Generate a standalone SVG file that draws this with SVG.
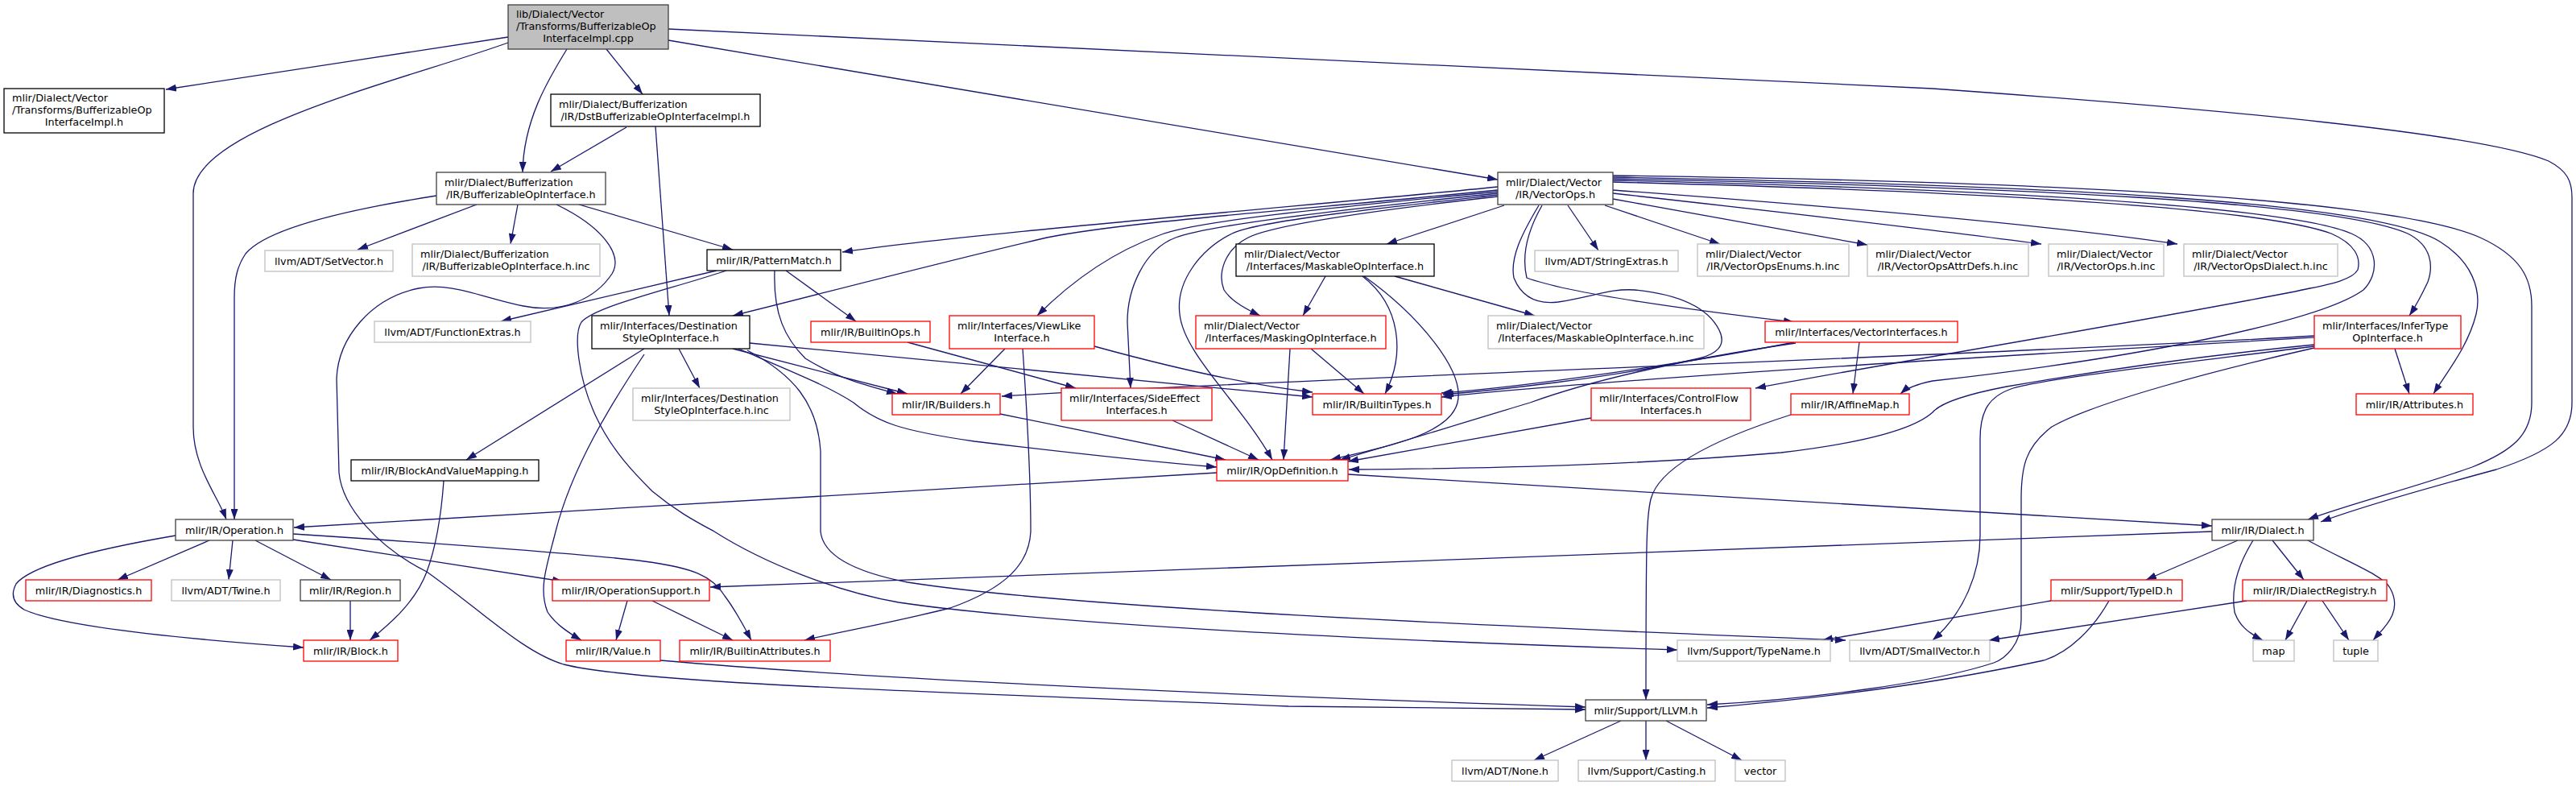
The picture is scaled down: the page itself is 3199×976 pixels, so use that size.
<svg xmlns="http://www.w3.org/2000/svg" width="3199" height="976" viewBox="0 0 3199 976">
<style>
text{font-family:"DejaVu Sans",sans-serif;font-size:12.8px;fill:#000}
.m{text-anchor:middle}
rect{fill:#fff;stroke-width:1.3}
.k rect{stroke:#000}
.d rect{stroke:#404040}
.g rect{stroke:#bfbfbf}
.r rect{stroke:#ff0000}
.root rect{fill:#bfbfbf;stroke:#404040}
#edges path{fill:none;stroke:#191970;stroke-width:1.3;marker-end:url(#a)}
</style>
<defs>
<marker id="a" markerUnits="userSpaceOnUse" viewBox="0 0 13 9" refX="13" refY="4.5" markerWidth="13" markerHeight="9" orient="auto"><path d="M0,0 L13,4.5 L0,9 z" fill="#191970"/></marker>
</defs>
<rect x="0" y="0" width="3199" height="976" style="fill:#fff;stroke:none"/>
<g id="edges">
<path d="M631,46 C500,66 330,92 206,111"/>
<path d="M631,53 C500,100 240,160 240,240 L240,530 C240,580 270,615 281,645"/>
<path d="M704,61 C680,100 650,150 649,214"/>
<path d="M753,61 L798,117"/>
<path d="M830,50 L1860,223"/>
<path d="M830,36 L2400,110 C2750,135 3080,165 3165,200 C3188,212 3194,225 3194,245 L3194,500 C3194,540 3170,560 3100,583 C3000,610 2930,630 2882,648"/>
<path d="M778,158 L684,213"/>
<path d="M814,157 L831,392"/>
<path d="M592,254 L444,310"/>
<path d="M643,254 L634,303"/>
<path d="M542,243 C420,262 330,285 305,315 C295,330 291,345 291,370 L291,645"/>
<path d="M719,254 L910,310"/>
<path d="M691,254 C745,280 775,315 760,340 C740,370 700,390 650,380 C600,370 560,350 520,358 C460,370 420,420 418,470 L421,587 C425,630 470,680 530,710 C600,760 650,810 700,825 C800,850 1200,860 1600,877 C1800,880 1900,881 1969,881"/>
<path d="M820,820 C1100,845 1600,866 1969,878"/>
<path d="M890,336 L622,399"/>
<path d="M902,336 C830,360 740,380 722,400 C712,415 718,470 740,517 C760,560 790,590 810,610 C840,635 865,648 887,660 C950,700 1040,735 1116,748 C1300,775 1700,795 2083,807"/>
<path d="M976,336 L1063,399"/>
<path d="M962,336 C960,390 975,420 1000,445 C1040,470 1080,480 1114,489"/>
<path d="M1860,232 C1600,258 1200,290 1046,313"/>
<path d="M1860,236 C1600,262 1400,275 1300,295 C1150,330 1000,370 910,392"/>
<path d="M1860,238 C1650,258 1480,275 1440,292 C1390,310 1340,340 1288,392"/>
<path d="M1860,240 C1650,262 1500,280 1460,295 C1420,310 1400,360 1400,400 L1404,482"/>
<path d="M1860,242 C1700,260 1560,275 1530,290 C1490,310 1460,350 1465,390 C1470,440 1540,500 1580,571"/>
<path d="M1860,244 C1700,262 1580,280 1550,295 C1520,310 1512,340 1520,360 C1530,375 1550,385 1565,392"/>
<path d="M1868,255 L1722,303"/>
<path d="M1911,255 C1890,290 1875,320 1880,345 C1890,370 1910,378 1935,375 C1980,368 2000,358 2030,360 C2080,365 2120,380 2135,410 C2145,430 2130,440 2110,445 C2000,470 1850,485 1792,490"/>
<path d="M1915,255 C1895,290 1890,320 1896,345 C1950,365 2100,385 2228,400"/>
<path d="M1947,255 L1985,311"/>
<path d="M1993,255 L2136,303"/>
<path d="M2003,247 L2319,304"/>
<path d="M2003,240 C2200,262 2400,285 2535,303"/>
<path d="M2003,236 C2300,258 2550,280 2704,303"/>
<path d="M2003,226 C2400,236 2800,255 2895,290 C2925,303 2932,320 2928,335 C2920,350 2880,355 2850,362 C2600,410 2350,450 2180,482"/>
<path d="M2003,224 C2450,234 2840,255 2920,290 C2955,305 2955,340 2935,360 C2880,400 2650,445 2400,473 C2385,476 2370,480 2360,489"/>
<path d="M2003,222 C2500,232 2900,250 2990,290 C3020,305 3022,330 3015,350 C3008,365 3000,380 2992,392"/>
<path d="M2003,220 C2550,230 2950,250 3030,300 C3070,325 3082,360 3075,390 C3065,430 3040,460 3022,489"/>
<path d="M2003,218 C2600,226 2980,250 3080,295 C3130,318 3144,345 3144,380 L3144,500 C3144,540 3120,560 3070,580 C3000,605 2920,625 2866,645"/>
<path d="M1646,343 L1618,392"/>
<path d="M1732,343 L1906,392"/>
<path d="M1692,343 C1740,380 1745,440 1720,489"/>
<path d="M1694,343 C1760,390 1820,460 1810,500 C1800,540 1720,555 1652,571"/>
<path d="M1628,433 L1694,489"/>
<path d="M1602,433 L1594,571"/>
<path d="M843,433 L869,482"/>
<path d="M800,433 L579,571"/>
<path d="M800,440 C760,500 710,580 690,660 C680,700 668,730 680,760 C690,775 705,785 722,795"/>
<path d="M910,433 L1127,489"/>
<path d="M917,433 C980,460 1030,480 1060,500 C1090,525 1120,535 1210,548 C1350,565 1450,575 1511,580"/>
<path d="M931,426 L1630,493"/>
<path d="M928,435 C985,465 1015,500 1019,560 L1019,660 C1022,690 1060,710 1127,723 C1300,750 1700,772 2292,795"/>
<path d="M1248,433 L1193,489"/>
<path d="M1270,433 C1276,520 1280,600 1280,660 C1278,700 1250,730 1180,755 C1100,775 1040,785 999,795"/>
<path d="M1359,430 C1450,455 1550,478 1630,487"/>
<path d="M1127,425 L1336,482"/>
<path d="M1242,514 L1522,571"/>
<path d="M1456,522 L1563,571"/>
<path d="M2309,425 L2301,489"/>
<path d="M2228,425 C2100,450 1900,480 1790,488"/>
<path d="M2230,426 C2100,445 1983,470 1900,500 C1800,530 1720,555 1664,571"/>
<path d="M1976,519 L1674,573"/>
<path d="M2874,417 C2500,440 1600,470 1244,492"/>
<path d="M2874,419 C2600,435 2000,470 1790,493"/>
<path d="M2874,428 C2700,445 2550,470 2492,480 C2440,490 2410,500 2400,512 C2380,530 2330,548 2212,562 C2000,580 1800,582 1675,583"/>
<path d="M2874,430 C2700,452 2540,470 2500,482 C2470,492 2459,510 2459,545 L2459,665 C2459,710 2440,760 2400,795"/>
<path d="M2874,432 C2750,460 2600,500 2548,530 C2515,555 2510,580 2510,620 L2510,770 C2510,800 2490,818 2476,823 C2400,848 2250,868 2120,875"/>
<path d="M2974,433 L2992,489"/>
<path d="M1511,587 L365,655"/>
<path d="M1674,589 L2747,653"/>
<path d="M260,671 L146,720"/>
<path d="M289,671 L284,720"/>
<path d="M317,671 L411,720"/>
<path d="M218,665 C130,680 40,700 20,725 C12,740 18,750 30,757 C80,780 250,795 377,804"/>
<path d="M364,670 L699,722"/>
<path d="M364,663 C550,675 750,690 800,697 C860,705 885,715 900,740 C915,760 925,780 933,795"/>
<path d="M435,746 L435,795"/>
<path d="M551,597 C548,640 541,680 530,710 C515,750 480,778 459,795"/>
<path d="M779,746 L765,795"/>
<path d="M810,746 L910,795"/>
<path d="M2747,660 L882,729"/>
<path d="M2779,671 L2665,720"/>
<path d="M2822,671 L2861,720"/>
<path d="M2798,671 C2780,700 2770,730 2775,760 C2780,775 2790,785 2810,795"/>
<path d="M2866,671 C2920,700 2960,715 2968,730 C2985,760 2960,780 2947,795"/>
<path d="M2790,746 L2470,795"/>
<path d="M2865,746 L2838,795"/>
<path d="M2884,746 L2917,795"/>
<path d="M2547,746 L2263,795"/>
<path d="M2619,746 C2600,780 2570,810 2538,820 C2400,850 2250,868 2120,879"/>
<path d="M2224,515 C2130,545 2060,580 2050,620 C2045,640 2044,660 2044,869"/>
<path d="M2013,895 L1905,944"/>
<path d="M2044,895 L2044,944"/>
<path d="M2069,895 L2163,944"/>
</g>
<g id="n_root" class="root"><rect x="631" y="6" width="199" height="55"/><text x="641" y="22">lib/Dialect/Vector</text><text x="641" y="37">/Transforms/BufferizableOp</text><text class="m" x="730.5" y="52">InterfaceImpl.cpp</text></g>
<g id="n_vtimpl" class="k"><rect x="5" y="110" width="199" height="55"/><text x="15" y="126">mlir/Dialect/Vector</text><text x="15" y="141">/Transforms/BufferizableOp</text><text class="m" x="104.5" y="156">InterfaceImpl.h</text></g>
<g id="n_dst" class="k"><rect x="684" y="117" width="260" height="40"/><text x="694" y="134">mlir/Dialect/Bufferization</text><text class="m" x="814" y="148.5">/IR/DstBufferizableOpInterfaceImpl.h</text></g>
<g id="n_boi" class="d"><rect x="542" y="214" width="210" height="40"/><text x="552" y="231">mlir/Dialect/Bufferization</text><text class="m" x="647" y="245.5">/IR/BufferizableOpInterface.h</text></g>
<g id="n_vops" class="d"><rect x="1860" y="214" width="143" height="40"/><text x="1870" y="231">mlir/Dialect/Vector</text><text class="m" x="1931.5" y="245.5">/IR/VectorOps.h</text></g>
<g id="n_setvec" class="g"><rect x="329" y="311" width="159" height="26"/><text class="m" x="408.5" y="328.5">llvm/ADT/SetVector.h</text></g>
<g id="n_boiinc" class="g"><rect x="512" y="303" width="233" height="40"/><text x="522" y="320">mlir/Dialect/Bufferization</text><text class="m" x="628.5" y="334.5">/IR/BufferizableOpInterface.h.inc</text></g>
<g id="n_pm" class="k"><rect x="878" y="310" width="166" height="26"/><text class="m" x="961" y="327.5">mlir/IR/PatternMatch.h</text></g>
<g id="n_maskable" class="k"><rect x="1535" y="303" width="246" height="40"/><text x="1545" y="320">mlir/Dialect/Vector</text><text class="m" x="1658" y="334.5">/Interfaces/MaskableOpInterface.h</text></g>
<g id="n_strext" class="g"><rect x="1906" y="311" width="178" height="26"/><text class="m" x="1995" y="328.5">llvm/ADT/StringExtras.h</text></g>
<g id="n_enums" class="g"><rect x="2108" y="303" width="188" height="40"/><text x="2118" y="320">mlir/Dialect/Vector</text><text class="m" x="2202" y="334.5">/IR/VectorOpsEnums.h.inc</text></g>
<g id="n_attrdefs" class="g"><rect x="2319" y="303" width="200" height="40"/><text x="2329" y="320">mlir/Dialect/Vector</text><text class="m" x="2419" y="334.5">/IR/VectorOpsAttrDefs.h.inc</text></g>
<g id="n_opsinc" class="g"><rect x="2544" y="303" width="143" height="40"/><text x="2554" y="320">mlir/Dialect/Vector</text><text class="m" x="2615.5" y="334.5">/IR/VectorOps.h.inc</text></g>
<g id="n_dialectinc" class="g"><rect x="2712" y="303" width="191" height="40"/><text x="2722" y="320">mlir/Dialect/Vector</text><text class="m" x="2807.5" y="334.5">/IR/VectorOpsDialect.h.inc</text></g>
<g id="n_funcext" class="g"><rect x="465" y="399" width="194" height="26"/><text class="m" x="562" y="416.5">llvm/ADT/FunctionExtras.h</text></g>
<g id="n_ds" class="k"><rect x="735" y="392" width="196" height="41"/><text x="745" y="409">mlir/Interfaces/Destination</text><text class="m" x="833" y="423.5">StyleOpInterface.h</text></g>
<g id="n_builtinops" class="r"><rect x="1007" y="399" width="148" height="26"/><text class="m" x="1081" y="416.5">mlir/IR/BuiltinOps.h</text></g>
<g id="n_viewlike" class="r"><rect x="1179" y="392" width="180" height="41"/><text x="1189" y="409">mlir/Interfaces/ViewLike</text><text class="m" x="1269" y="423.5">Interface.h</text></g>
<g id="n_masking" class="r"><rect x="1485" y="392" width="236" height="41"/><text x="1495" y="409">mlir/Dialect/Vector</text><text class="m" x="1603" y="423.5">/Interfaces/MaskingOpInterface.h</text></g>
<g id="n_maskableinc" class="g"><rect x="1848" y="392" width="268" height="41"/><text x="1858" y="409">mlir/Dialect/Vector</text><text class="m" x="1982" y="423.5">/Interfaces/MaskableOpInterface.h.inc</text></g>
<g id="n_vecint" class="r"><rect x="2192" y="399" width="239" height="26"/><text class="m" x="2311.5" y="416.5">mlir/Interfaces/VectorInterfaces.h</text></g>
<g id="n_infer" class="r"><rect x="2874" y="392" width="182" height="41"/><text x="2884" y="409">mlir/Interfaces/InferType</text><text class="m" x="2965" y="423.5">OpInterface.h</text></g>
<g id="n_dsinc" class="g"><rect x="786" y="482" width="195" height="40"/><text x="796" y="499">mlir/Interfaces/Destination</text><text class="m" x="883.5" y="513.5">StyleOpInterface.h.inc</text></g>
<g id="n_builders" class="r"><rect x="1108" y="489" width="134" height="26"/><text class="m" x="1175" y="506.5">mlir/IR/Builders.h</text></g>
<g id="n_sideeff" class="r"><rect x="1318" y="482" width="187" height="40"/><text x="1328" y="499">mlir/Interfaces/SideEffect</text><text class="m" x="1411.5" y="513.5">Interfaces.h</text></g>
<g id="n_btypes" class="r"><rect x="1630" y="489" width="160" height="26"/><text class="m" x="1710" y="506.5">mlir/IR/BuiltinTypes.h</text></g>
<g id="n_cf" class="r"><rect x="1976" y="482" width="198" height="40"/><text x="1986" y="499">mlir/Interfaces/ControlFlow</text><text class="m" x="2075" y="513.5">Interfaces.h</text></g>
<g id="n_affine" class="r"><rect x="2224" y="489" width="147" height="26"/><text class="m" x="2297.5" y="506.5">mlir/IR/AffineMap.h</text></g>
<g id="n_attrs" class="r"><rect x="2926" y="489" width="145" height="26"/><text class="m" x="2998.5" y="506.5">mlir/IR/Attributes.h</text></g>
<g id="n_bvm" class="k"><rect x="436" y="571" width="233" height="26"/><text class="m" x="552.5" y="588.5">mlir/IR/BlockAndValueMapping.h</text></g>
<g id="n_opdef" class="r"><rect x="1511" y="571" width="163" height="26"/><text class="m" x="1592.5" y="588.5">mlir/IR/OpDefinition.h</text></g>
<g id="n_op" class="d"><rect x="218" y="645" width="146" height="26"/><text class="m" x="291" y="662.5">mlir/IR/Operation.h</text></g>
<g id="n_dialect" class="d"><rect x="2747" y="645" width="126" height="26"/><text class="m" x="2810" y="662.5">mlir/IR/Dialect.h</text></g>
<g id="n_diag" class="r"><rect x="32" y="720" width="156" height="26"/><text class="m" x="110" y="737.5">mlir/IR/Diagnostics.h</text></g>
<g id="n_twine" class="g"><rect x="213" y="720" width="135" height="26"/><text class="m" x="280.5" y="737.5">llvm/ADT/Twine.h</text></g>
<g id="n_region" class="d"><rect x="373" y="720" width="124" height="26"/><text class="m" x="435" y="737.5">mlir/IR/Region.h</text></g>
<g id="n_opsupport" class="r"><rect x="686" y="720" width="195" height="26"/><text class="m" x="783.5" y="737.5">mlir/IR/OperationSupport.h</text></g>
<g id="n_typeid" class="r"><rect x="2547" y="720" width="163" height="26"/><text class="m" x="2628.5" y="737.5">mlir/Support/TypeID.h</text></g>
<g id="n_dreg" class="r"><rect x="2785" y="720" width="179" height="26"/><text class="m" x="2874.5" y="737.5">mlir/IR/DialectRegistry.h</text></g>
<g id="n_block" class="r"><rect x="377" y="795" width="117" height="26"/><text class="m" x="435.5" y="812.5">mlir/IR/Block.h</text></g>
<g id="n_value" class="r"><rect x="703" y="795" width="117" height="26"/><text class="m" x="761.5" y="812.5">mlir/IR/Value.h</text></g>
<g id="n_battrs" class="r"><rect x="844" y="795" width="187" height="26"/><text class="m" x="937.5" y="812.5">mlir/IR/BuiltinAttributes.h</text></g>
<g id="n_typename" class="g"><rect x="2083" y="795" width="190" height="26"/><text class="m" x="2178" y="812.5">llvm/Support/TypeName.h</text></g>
<g id="n_smallvec" class="g"><rect x="2297" y="795" width="174" height="26"/><text class="m" x="2384" y="812.5">llvm/ADT/SmallVector.h</text></g>
<g id="n_map" class="g"><rect x="2798" y="795" width="51" height="26"/><text class="m" x="2823.5" y="812.5">map</text></g>
<g id="n_tuple" class="g"><rect x="2898" y="795" width="55" height="26"/><text class="m" x="2925.5" y="812.5">tuple</text></g>
<g id="n_llvm" class="d"><rect x="1969" y="869" width="150" height="26"/><text class="m" x="2044" y="886.5">mlir/Support/LLVM.h</text></g>
<g id="n_none" class="g"><rect x="1803" y="944" width="132" height="26"/><text class="m" x="1869" y="961.5">llvm/ADT/None.h</text></g>
<g id="n_casting" class="g"><rect x="1960" y="944" width="170" height="26"/><text class="m" x="2045" y="961.5">llvm/Support/Casting.h</text></g>
<g id="n_vector" class="g"><rect x="2155" y="944" width="62" height="26"/><text class="m" x="2186" y="961.5">vector</text></g>
</svg>
